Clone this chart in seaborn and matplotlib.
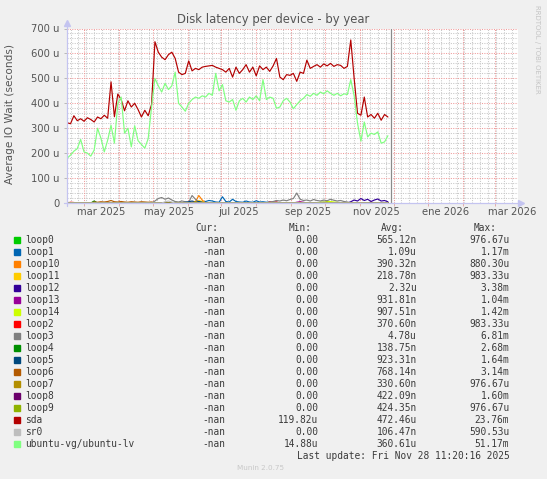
import numpy as np
import pandas as pd
import matplotlib
matplotlib.use("Agg")
import matplotlib.pyplot as plt
from matplotlib.patches import Rectangle
from matplotlib.lines import Line2D
import seaborn as sns

# ---------------- data ----------------
start_date = "2025-02-14"
n_points = 96  # one sample every 3 days
now_time = pd.Timestamp("2025-11-28 11:20:16")

series_names = ["loop0", "loop1", "loop10", "loop11", "loop12", "loop13", "loop14",
                "loop2", "loop3", "loop4", "loop5", "loop6", "loop7", "loop8", "loop9",
                "sda", "sr0", "ubuntu-vg/ubuntu-lv"]
series_colors = ["#00CC00", "#0066B3", "#FF8000", "#FFCC00", "#330099", "#990099", "#CCFF00",
                 "#FF0000", "#808080", "#008F00", "#00487D", "#B35A00", "#B38F00", "#6B006B",
                 "#8FB300", "#B30000", "#BEBEBE", "#80FF80"]

cur_vals = ["-nan"] * 18
min_vals = ["0.00"] * 15 + ["119.82u", "0.00", "14.88u"]
avg_vals = ["565.12n", "1.09u", "390.32n", "218.78n", "2.32u", "931.81n", "907.51n",
            "370.60n", "4.78u", "138.75n", "923.31n", "768.14n", "330.60n", "422.09n",
            "424.35n", "472.46u", "106.47n", "360.61u"]
max_vals = ["976.67u", "1.17m", "880.30u", "983.33u", "3.38m", "1.04m", "1.42m",
            "983.33u", "6.81m", "2.68m", "1.64m", "3.14m", "976.67u", "1.60m",
            "976.67u", "23.76m", "590.53u", "51.17m"]

# values in micro-seconds ("u")
sda = [322, 318, 350, 330, 338, 328, 342, 335, 325, 345, 338, 352,
       340, 486, 346, 437, 415, 370, 410, 385, 400, 375, 345, 372,
       350, 395, 647, 605, 585, 575, 595, 605, 580, 525, 515, 520,
       570, 530, 540, 535, 545, 548, 550, 552, 545, 540, 535, 525,
       540, 505, 545, 520, 535, 555, 525, 545, 510, 550, 535, 545,
       528, 550, 580, 505, 495, 515, 512, 520, 488, 525, 520, 573,
       540, 548, 555, 545, 558, 550, 560, 548, 555, 552, 540, 548,
       654, 500, 360, 352, 425, 345, 355, 340, 360, 332, 355, 345]
ubuntu_lv = [180, 192, 208, 218, 255, 205, 200, 188, 212, 300, 260, 205,
             252, 312, 240, 400, 425, 280, 300, 225, 310, 250, 235, 220,
             258, 385, 500, 470, 445, 480, 455, 470, 525, 400, 385, 368,
             400, 415, 425, 420, 430, 425, 440, 432, 520, 450, 475, 410,
             405, 415, 372, 410, 420, 405, 425, 415, 430, 410, 495, 415,
             425, 420, 380, 385, 410, 420, 405, 378, 395, 410, 420, 435,
             428, 440, 432, 445, 438, 450, 440, 432, 440, 430, 438, 435,
             495, 430, 320, 248, 325, 265, 280, 275, 285, 240, 245, 270]
loop0 = [0, 0, 0, 0, 0, 0, 0, 0, 0, 0, 0, 0,
         0, 0, 0, 0, 0, 0, 0, 0, 0, 0, 0, 0,
         0, 0, 0, 0, 0, 0, 0, 0, 4, 0, 0, 0,
         0, 0, 0, 0, 5, 0, 0, 0, 0, 0, 0, 0,
         0, 0, 0, 0, 0, 0, 0, 0, 0, 0, 0, 0,
         0, 0, 0, 0, 0, 0, 0, 0, 0, 0, 0, 0,
         0, 0, 0, 0, 0, 0, 0, 0, 0, 0, 0, 0,
         0, 0, 0, 0, 0, 0, 0, 0, 0, 0, 0, 0]
loop1 = [3, 0, 0, 0, 0, 0, 0, 0, 0, 0, 0, 0,
         0, 0, 0, 0, 0, 0, 0, 0, 0, 0, 0, 0,
         0, 0, 0, 0, 0, 0, 0, 0, 0, 0, 0, 0,
         0, 0, 0, 0, 5, 6, 10, 8, 4, 3, 25, 6,
         4, 15, 6, 4, 3, 8, 4, 3, 9, 4, 5, 3,
         4, 2, 3, 0, 0, 0, 0, 0, 0, 0, 0, 0,
         0, 0, 0, 0, 0, 0, 0, 0, 0, 0, 0, 0,
         0, 0, 0, 0, 0, 0, 0, 0, 0, 0, 0, 0]
loop10 = [0, 0, 0, 0, 0, 0, 0, 0, 0, 0, 0, 0,
          0, 0, 0, 0, 0, 0, 0, 0, 0, 0, 0, 0,
          0, 0, 0, 0, 0, 0, 0, 0, 0, 0, 0, 0,
          0, 0, 5, 30, 12, 0, 0, 0, 0, 0, 0, 0,
          0, 0, 0, 0, 0, 0, 0, 0, 0, 0, 0, 0,
          0, 0, 0, 0, 0, 0, 0, 0, 0, 0, 0, 0,
          0, 0, 0, 0, 0, 0, 0, 0, 0, 0, 0, 0,
          0, 0, 0, 0, 0, 0, 0, 0, 0, 0, 0, 0]
loop11 = [0, 0, 0, 0, 0, 0, 0, 0, 0, 0, 0, 0,
          0, 0, 0, 0, 0, 0, 0, 0, 0, 0, 0, 0,
          0, 0, 0, 0, 0, 0, 0, 0, 0, 0, 0, 0,
          0, 0, 0, 10, 6, 0, 0, 0, 0, 0, 0, 0,
          0, 0, 0, 0, 0, 0, 0, 0, 0, 0, 0, 0,
          0, 0, 0, 0, 0, 0, 0, 0, 0, 0, 0, 0,
          0, 0, 0, 0, 0, 5, 0, 0, 0, 0, 0, 0,
          0, 0, 0, 0, 0, 0, 0, 0, 0, 0, 0, 0]
loop12 = [0, 0, 0, 0, 0, 0, 0, 0, 0, 0, 0, 0,
          0, 0, 0, 0, 0, 0, 0, 0, 0, 0, 0, 0,
          0, 0, 0, 0, 0, 0, 0, 0, 0, 0, 0, 0,
          0, 0, 0, 0, 0, 0, 0, 0, 0, 0, 0, 0,
          0, 0, 0, 0, 0, 0, 0, 0, 0, 0, 0, 0,
          0, 0, 0, 0, 0, 0, 0, 0, 0, 0, 0, 0,
          0, 0, 0, 0, 0, 0, 0, 0, 0, 0, 0, 0,
          5, 12, 8, 18, 10, 15, 6, 12, 16, 8, 10, 5]
loop13 = [0, 0, 0, 0, 0, 0, 0, 0, 0, 0, 0, 0,
          0, 0, 0, 0, 0, 0, 0, 0, 0, 0, 0, 0,
          0, 0, 0, 0, 0, 0, 0, 0, 0, 0, 0, 0,
          0, 4, 0, 0, 0, 0, 0, 0, 0, 0, 0, 0,
          0, 0, 0, 0, 0, 0, 0, 0, 0, 0, 0, 0,
          0, 0, 0, 0, 0, 0, 0, 0, 3, 5, 3, 0,
          0, 0, 0, 0, 0, 0, 0, 0, 0, 0, 0, 0,
          0, 0, 0, 0, 0, 0, 0, 0, 0, 0, 0, 0]
loop14 = [0, 0, 0, 0, 0, 0, 0, 0, 0, 0, 0, 0,
          0, 0, 0, 0, 0, 0, 0, 0, 0, 0, 0, 0,
          0, 0, 0, 0, 0, 0, 0, 0, 0, 0, 0, 0,
          0, 0, 0, 0, 0, 0, 0, 0, 0, 0, 0, 0,
          0, 0, 0, 0, 0, 0, 0, 0, 0, 0, 0, 0,
          0, 0, 0, 0, 0, 0, 0, 0, 0, 0, 0, 0,
          0, 0, 0, 0, 0, 5, 6, 4, 3, 0, 0, 0,
          0, 0, 0, 0, 0, 0, 0, 0, 0, 0, 0, 0]
loop2 = [0, 3, 2, 0, 0, 0, 0, 0, 0, 0, 0, 0,
         0, 0, 0, 0, 0, 0, 0, 0, 0, 0, 0, 0,
         0, 0, 0, 0, 0, 0, 0, 0, 0, 0, 0, 0,
         0, 0, 0, 0, 0, 0, 0, 0, 0, 0, 0, 0,
         0, 0, 0, 0, 0, 0, 0, 0, 0, 0, 0, 0,
         4, 3, 4, 0, 0, 0, 0, 0, 0, 3, 0, 0,
         0, 0, 0, 0, 0, 0, 0, 0, 0, 0, 0, 0,
         0, 0, 0, 0, 0, 0, 0, 0, 0, 0, 0, 0]
loop3 = [0, 0, 0, 0, 0, 0, 0, 0, 0, 0, 0, 0,
         0, 0, 0, 0, 0, 0, 0, 0, 0, 0, 0, 0,
         0, 0, 8, 18, 22, 15, 20, 12, 6, 4, 8, 5,
         3, 30, 15, 4, 0, 0, 0, 0, 0, 0, 0, 0,
         0, 0, 0, 0, 0, 0, 0, 0, 0, 0, 0, 0,
         3, 6, 10, 8, 12, 9, 14, 18, 40, 15, 10, 12,
         8, 14, 10, 8, 12, 9, 15, 11, 8, 10, 6, 4,
         0, 0, 0, 0, 0, 0, 0, 0, 0, 0, 0, 0]
loop4 = [0, 0, 0, 0, 0, 0, 0, 0, 8, 0, 0, 0,
         0, 0, 0, 0, 0, 0, 0, 0, 0, 0, 0, 0,
         0, 0, 0, 0, 0, 0, 0, 0, 0, 0, 0, 0,
         0, 0, 0, 0, 0, 0, 0, 0, 0, 0, 0, 0,
         0, 0, 0, 0, 0, 0, 0, 0, 0, 0, 0, 0,
         0, 0, 0, 0, 0, 0, 0, 0, 0, 0, 0, 0,
         0, 0, 0, 0, 0, 0, 0, 0, 0, 0, 0, 0,
         0, 0, 0, 0, 0, 0, 0, 0, 0, 0, 0, 0]
loop5 = [0, 0, 0, 0, 0, 0, 0, 0, 0, 0, 0, 0,
         0, 0, 0, 0, 0, 0, 0, 0, 0, 0, 0, 0,
         0, 0, 0, 0, 0, 0, 0, 0, 0, 0, 0, 3,
         5, 8, 4, 6, 3, 0, 0, 0, 0, 0, 0, 0,
         0, 0, 0, 0, 0, 0, 0, 0, 0, 0, 0, 0,
         0, 0, 0, 0, 0, 0, 0, 0, 0, 0, 0, 0,
         0, 0, 0, 0, 0, 0, 0, 0, 0, 0, 0, 0,
         0, 0, 0, 0, 0, 0, 0, 0, 0, 0, 0, 0]
loop6 = [0, 0, 0, 0, 0, 0, 0, 0, 4, 3, 5, 4,
         6, 10, 5, 4, 6, 4, 3, 5, 4, 3, 5, 4,
         3, 4, 0, 0, 0, 0, 0, 0, 0, 0, 0, 0,
         0, 0, 0, 0, 0, 0, 0, 0, 0, 0, 0, 0,
         0, 0, 0, 0, 0, 0, 0, 0, 0, 0, 0, 0,
         0, 0, 0, 0, 0, 0, 0, 0, 0, 0, 0, 0,
         0, 0, 0, 0, 0, 0, 0, 0, 0, 0, 0, 0,
         0, 0, 0, 0, 0, 0, 0, 0, 0, 0, 0, 0]
loop7 = [0, 0, 0, 0, 0, 0, 0, 0, 0, 0, 0, 0,
         0, 0, 0, 0, 0, 0, 0, 0, 0, 0, 0, 0,
         0, 0, 0, 0, 0, 0, 0, 0, 0, 0, 0, 0,
         0, 0, 6, 0, 0, 0, 0, 0, 0, 0, 0, 0,
         0, 0, 0, 0, 0, 0, 0, 0, 0, 0, 0, 0,
         0, 0, 0, 0, 0, 0, 0, 0, 0, 0, 0, 0,
         0, 0, 0, 0, 0, 0, 0, 0, 0, 0, 0, 0,
         0, 0, 0, 0, 0, 0, 0, 0, 0, 0, 0, 0]
loop8 = [0, 0, 0, 0, 0, 0, 0, 0, 0, 0, 0, 0,
         0, 0, 0, 0, 0, 0, 0, 0, 0, 0, 0, 0,
         0, 0, 0, 0, 0, 0, 0, 0, 0, 0, 0, 0,
         0, 0, 0, 0, 0, 0, 0, 0, 0, 0, 0, 0,
         0, 0, 0, 0, 0, 0, 0, 0, 0, 0, 0, 0,
         0, 0, 0, 0, 0, 0, 0, 0, 0, 0, 0, 0,
         0, 0, 0, 0, 0, 0, 0, 0, 0, 0, 0, 0,
         0, 0, 0, 0, 0, 0, 3, 0, 0, 0, 0, 0]
loop9 = [0, 0, 0, 0, 0, 0, 0, 0, 0, 0, 0, 0,
         0, 0, 0, 0, 0, 0, 0, 0, 0, 0, 0, 0,
         0, 0, 0, 0, 0, 0, 0, 0, 0, 0, 0, 0,
         0, 0, 0, 0, 0, 0, 0, 0, 0, 0, 0, 0,
         0, 0, 0, 0, 0, 0, 0, 0, 0, 0, 0, 0,
         0, 0, 0, 0, 0, 0, 0, 0, 0, 0, 0, 0,
         0, 0, 0, 3, 4, 3, 0, 0, 0, 0, 0, 0,
         0, 0, 0, 0, 0, 0, 0, 0, 0, 0, 0, 0]
sr0 = [0, 0, 0, 0, 0, 0, 0, 0, 0, 0, 0, 0,
       0, 0, 0, 0, 0, 0, 0, 0, 0, 0, 0, 0,
       0, 0, 0, 0, 0, 5, 8, 4, 0, 0, 0, 0,
       0, 0, 0, 0, 0, 0, 0, 0, 0, 0, 0, 0,
       0, 0, 0, 0, 0, 0, 0, 0, 0, 0, 0, 0,
       0, 0, 0, 0, 0, 0, 0, 0, 0, 0, 0, 0,
       0, 0, 0, 0, 0, 0, 0, 0, 0, 0, 0, 0,
       0, 0, 0, 0, 0, 0, 0, 0, 0, 0, 0, 0]

series_values = [loop0, loop1, loop10, loop11, loop12, loop13, loop14, loop2, loop3,
                 loop4, loop5, loop6, loop7, loop8, loop9, sda, sr0, ubuntu_lv]

x_tick_labels = ["mar 2025", "may 2025", "jul 2025", "sep 2025", "nov 2025", "ene 2026", "mar 2026"]
x_label_months = ["2025-03-01", "2025-05-01", "2025-07-01", "2025-09-01", "2025-11-01",
                  "2026-01-01", "2026-03-01"]
y_ticks = [0, 100, 200, 300, 400, 500, 600, 700]
y_tick_labels = ["0", "100 u", "200 u", "300 u", "400 u", "500 u", "600 u", "700 u"]

# ---------------- figure ----------------
sns.set_theme(style="white")
plt.rcParams["font.family"] = ["DejaVu Sans"]

W, H = 547, 479
fig = plt.figure(figsize=(W / 100, H / 100), dpi=100, facecolor="#f0f0f0")


def fx(px):
    return px / W


def fy(py):
    return 1 - py / H


L, R, T, B = 67, 518, 28.5, 203
ax = fig.add_axes([fx(L), fy(B), fx(R) - fx(L), fy(T) - fy(B)])
ax.set_facecolor("white")

dates = pd.date_range(start_date, periods=n_points, freq="3D")
frames = []
for name, vals in zip(series_names, series_values):
    frames.append(pd.DataFrame({"date": dates, "value": vals, "series": name}))
df = pd.concat(frames, ignore_index=True)

xmin = pd.Timestamp("2025-02-13 21:00")
xmax = pd.Timestamp("2026-03-21 14:00")
ax.set_xlim(xmin, xmax)
ax.set_ylim(0, 700)

# grid (1px dotted)
minor_color = "#c8c8c8"
major_color = "#f09a9a"
dot = (0, (1, 1.3))
glw = 0.75
week_days = pd.date_range("2025-02-17", "2026-03-20", freq="W-MON")
month_days = pd.date_range("2025-03-01", "2026-03-01", freq="MS")
for d in week_days:
    ax.axvline(d, color=minor_color, lw=glw, ls=dot, zorder=0)
for v in range(20, 700, 20):
    if v % 100:
        ax.axhline(v, color=minor_color, lw=glw, ls=dot, zorder=0)
for d in month_days:
    ax.axvline(d, color=major_color, lw=glw, ls=dot, zorder=0.5)
for v in y_ticks[1:]:
    ax.axhline(v, color=major_color, lw=glw, ls=dot, zorder=0.5)

sns.lineplot(data=df, x="date", y="value", hue="series", hue_order=series_names,
             palette=dict(zip(series_names, series_colors)), legend=False,
             linewidth=0.85, estimator=None, sort=False, ax=ax, zorder=3)

ax.axvline(now_time, color="#8a8a8a", lw=0.9, zorder=4)

# axes styling
for s in ax.spines.values():
    s.set_visible(False)
ax.set_xlabel("")
ax.set_ylabel("")
ax.set_yticks(y_ticks)
ax.set_yticklabels(y_tick_labels)
ax.set_xticks(month_days)
ax.set_xticklabels([])
ax.tick_params(axis="y", length=2, width=0.6, color="#b0b0b0", pad=3.6,
               labelsize=7.2, labelcolor="#555555", left=True)
ax.tick_params(axis="x", length=2, width=0.6, color="#e0a0a0", bottom=True)

for lab, m in zip(x_tick_labels, x_label_months):
    ax.text(pd.Timestamp(m) + pd.Timedelta(days=15), -0.052, lab,
            transform=ax.get_xaxis_transform(), ha="center", va="center",
            fontsize=7.2, color="#555555", clip_on=False)

axis_col = "#c4c4f0"
fig.add_artist(Line2D([fx(L), fx(L)], [fy(B + 3), fy(24)], color=axis_col, lw=0.9))
fig.add_artist(Line2D([fx(L - 3), fx(521)], [fy(B), fy(B)], color=axis_col, lw=0.9))
fig.add_artist(Line2D([fx(L)], [fy(23)], marker="^", markersize=4.5, color=axis_col, lw=0))
fig.add_artist(Line2D([fx(521)], [fy(B)], marker=">", markersize=4.5, color=axis_col, lw=0))

# texts
fig.text(fx(273.5), fy(19), "Disk latency per device - by year", ha="center", va="center",
         fontsize=8.4, color="#555555")
fig.text(fx(10), fy(114), "Average IO Wait (seconds)", ha="center", va="center",
         rotation=90, fontsize=7.6, color="#555555")
fig.text(fx(537), fy(5), "RRDTOOL / TOBI OETIKER", ha="center", va="top", rotation=270,
         fontsize=5.0, color="#c4c4c4")

mono = "DejaVu Sans Mono"
fs = 6.85
tc = "#3a3a3a"
hdr_y = 228.3
for lab, xr in zip(["Cur:", "Min:", "Avg:", "Max:"], [218.3, 312, 404, 497]):
    fig.text(fx(xr), fy(hdr_y), lab, ha="right", va="center", family=mono, fontsize=fs, color=tc)

row0 = 239.7
for k, name in enumerate(series_names):
    yy = row0 + 12 * k
    fig.add_artist(Rectangle((fx(13.5), fy(yy + 3)), fx(6), 6 / H, color=series_colors[k],
                             transform=fig.transFigure))
    fig.text(fx(25), fy(yy), name, ha="left", va="center", family=mono, fontsize=fs, color=tc)
    fig.text(fx(225.7), fy(yy), cur_vals[k], ha="right", va="center", family=mono, fontsize=fs, color=tc)
    fig.text(fx(318.3), fy(yy), min_vals[k], ha="right", va="center", family=mono, fontsize=fs, color=tc)
    fig.text(fx(416.7), fy(yy), avg_vals[k], ha="right", va="center", family=mono, fontsize=fs, color=tc)
    fig.text(fx(509.3), fy(yy), max_vals[k], ha="right", va="center", family=mono, fontsize=fs, color=tc)

fig.text(fx(509.3), fy(455.7), "Last update: Fri Nov 28 11:20:16 2025", ha="right", va="center",
         family=mono, fontsize=fs, color=tc)
fig.text(fx(260.7), fy(468.3), "Munin 2.0.75", ha="center", va="center", fontsize=5.2,
         color="#c8c8c8")

fig.savefig("out.png", dpi=100, facecolor=fig.get_facecolor())
